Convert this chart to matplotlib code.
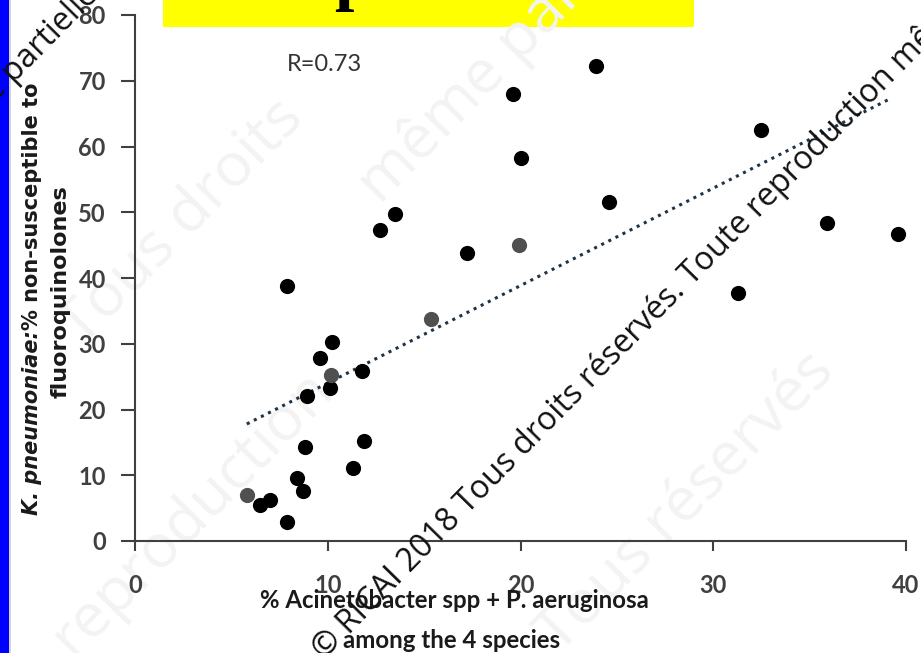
import matplotlib
matplotlib.use('Agg')
import matplotlib.pyplot as plt
from matplotlib.patches import Rectangle
import numpy as np

# 数据点 (黑色)
x_black = [7.9, 12.7, 13.5, 23.9, 19.6, 20.0, 24.6, 17.2, 32.5, 35.9, 39.6, 31.3,
           10.2, 9.6, 10.1, 11.8, 8.9, 8.8, 11.9, 11.3, 8.4, 8.7, 6.5, 7.0, 7.9]
y_black = [38.8, 47.3, 49.7, 72.2, 68.0, 58.2, 51.6, 43.8, 62.5, 48.4, 46.7, 37.7,
           30.3, 27.8, 23.2, 25.9, 22.1, 14.3, 15.2, 11.1, 9.6, 7.6, 5.5, 6.2, 2.9]
# 数据点 (灰色)
x_gray = [15.35, 19.9, 10.15, 5.8]
y_gray = [33.8, 45.0, 25.2, 7.0]

# 趋势线端点
trend_x = [5.8, 39.2]
trend_y = [17.8, 67.3]

xticks = [0, 10, 20, 30, 40]
yticks = [0, 10, 20, 30, 40, 50, 60, 70, 80]

W, H = 921, 653
fig = plt.figure(figsize=(W / 100, H / 100), dpi=100)
fig.patch.set_facecolor('white')

# 淡色水印 (背景)
faint = dict(fontsize=44, family='Open Sans', rotation=45.5, rotation_mode='anchor',
             va='baseline', color='#f3f3f3', zorder=-5)
fig.text(305 / W, 1 - 120 / H, 'Tous droits', ha='right', **faint)
fig.text(380 / W, 1 - 205 / H, 'même partielle', ha='left', **faint)
fig.text(335 / W, 1 - 390 / H, 'reproduction', ha='right', **faint)
fig.text(560 / W, 1 - 655 / H, 'Tous réservés', ha='left', **faint)

# 左侧蓝条和顶部黄框
fig.patches.append(Rectangle((0, 0), 9 / W, 1, transform=fig.transFigure,
                             facecolor='#0000ff', edgecolor='none', zorder=-6))
fig.patches.append(Rectangle((9 / W, 0), 2 / W, 1, transform=fig.transFigure,
                             facecolor='#d4d4d4', edgecolor='none', zorder=-6))
fig.patches.append(Rectangle((163 / W, 1 - 27 / H), (694 - 163) / W, 27 / H,
                             transform=fig.transFigure, facecolor='#ffff00',
                             edgecolor='none', zorder=-6))
fig.text(353 / W, 1 + 3 / H, 'p', fontsize=50, family='Liberation Serif', weight='bold',
         ha='center', va='baseline', color='black', zorder=-4)

ax = fig.add_axes([135 / W, 1 - 541 / H, (906 - 135) / W, (541 - 15) / H])
ax.set_facecolor('none')

# 散点
ax.scatter(x_black, y_black, s=120, color='black', zorder=3, linewidths=0)
ax.scatter(x_gray, y_gray, s=120, color='#505050', zorder=3, linewidths=0)

# 趋势线
ax.plot(trend_x, trend_y, linestyle=(0, (1, 1.6)), color='#1f3347', linewidth=2.2, zorder=2)

ax.set_xlim(0, 40)
ax.set_ylim(0, 80)
ax.set_xticks(xticks)
ax.set_yticks(yticks)
for s in ['top', 'right']:
    ax.spines[s].set_visible(False)
for s in ['left', 'bottom']:
    ax.spines[s].set_color('#404040')
    ax.spines[s].set_linewidth(1.5)
ax.tick_params(axis='y', length=10, width=1.5, color='#404040', pad=11,
               labelsize=17, labelcolor='#404040')
ax.tick_params(axis='x', length=7, width=1.5, color='#404040', pad=17,
               labelsize=17, labelcolor='#404040')
for lab in ax.get_xticklabels() + ax.get_yticklabels():
    lab.set_fontfamily('Lato')
    lab.set_fontweight('bold')

ax.text(7.9, 72.5, 'R=0.73', fontsize=17, family='Lato', color='#333333',
        ha='left', va='center')

# 坐标轴标题
fig.text(454 / W, 1 - 600 / H, '% Acinetobacter spp + P. aeruginosa', fontsize=17.3,
         family='Lato', weight='bold', ha='center', va='center', color='#1a1a1a')
fig.text(452 / W, 1 - 640 / H, 'among the 4 species', fontsize=17.3,
         family='Lato', weight='bold', ha='center', va='center', color='#1a1a1a')

fig.canvas.draw()
renderer = fig.canvas.get_renderer()
t1 = fig.text(32 / W, 1 - 515 / H, 'K. pneumoniae:', fontsize=15, family='DejaVu Sans',
              weight='bold', style='italic', rotation=90, ha='center', va='bottom',
              color='#1a1a1a')
bb = t1.get_window_extent(renderer)
fig.text(32 / W, bb.y1 / H, '% non-susceptible to', fontsize=15, family='DejaVu Sans',
         weight='bold', rotation=90, ha='center', va='bottom', color='#1a1a1a')
fig.text(61 / W, 1 - 292 / H, 'fluoroquinolones', fontsize=16, family='DejaVu Sans',
         weight='bold', rotation=90, ha='center', va='center', color='#1a1a1a')

# 水印
wm = 'Tous droits réservés. Toute reproduction même partielle'
fig.text(324 / W, 1 - 660 / H, '© RICAI 2018 ' + wm, fontsize=23.2, family='Open Sans',
         rotation=45.5, rotation_mode='anchor', ha='left', va='baseline', color='#111111')
fig.text(100 / W, 1 + 4 / H, 'Toute reproduction même partielle', fontsize=23.2,
         family='Open Sans', rotation=45.5, rotation_mode='anchor', ha='right',
         va='baseline', color='#111111')

fig.savefig('out.png', dpi=100)
